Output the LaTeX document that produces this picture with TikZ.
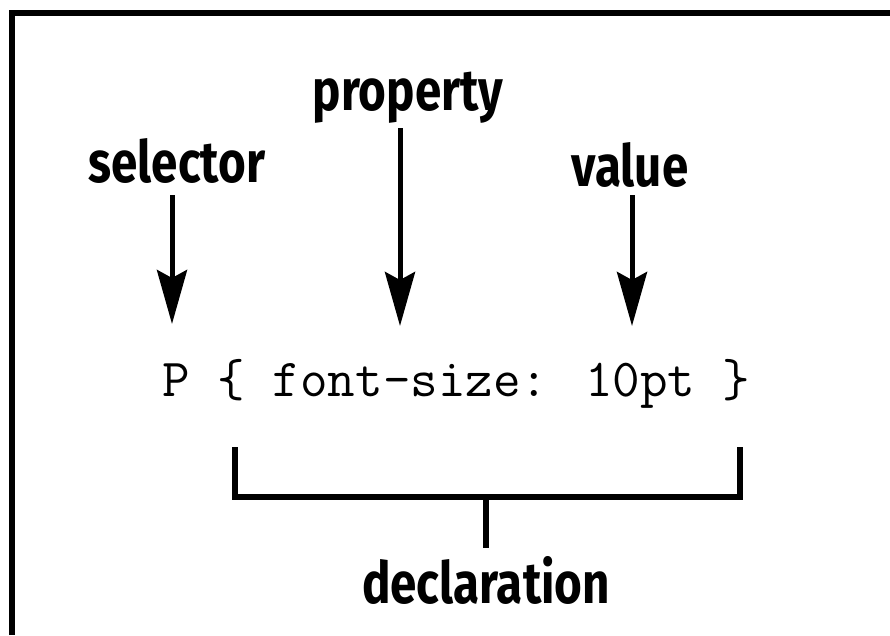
\documentclass[tikz,border=0pt]{standalone}
\usepackage{fontspec}
\newfontfamily\lblfont[FakeStretch=0.82]{Fira Sans}
\usetikzlibrary{arrows.meta}
\begin{document}
\begin{tikzpicture}[x=1pt,y=-1pt,
  lbl/.style={font=\lblfont\fontsize{58}{60}\selectfont\bfseries, inner sep=0pt, anchor=base},
  code/.style={font=\ttfamily\fontsize{53.5}{56}\selectfont, inner sep=0pt, anchor=base},
  arr/.style={line width=5pt, -{Stealth[length=54pt, width=30pt, inset=8pt]}},
  brk/.style={line width=5.5pt},
  frame/.style={line width=6pt}]
\useasboundingbox (0,0) rectangle (890,635);
\draw[frame] (11.5,635) -- (11.5,12.5) -- (890,12.5);
% labels
\node[lbl] (sel) at (177,182) {selector};
\node[lbl] (prop) at (408,110) {property};
\node[lbl] (val) at (630,186) {value};
% arrows
\coordinate (selS) at (172,195);
\coordinate (selT) at (172,324);
\coordinate (propS) at (400,128);
\coordinate (propT) at (400,326);
\coordinate (valS) at (632,195);
\coordinate (valT) at (632,326);
\draw[arr] (selS) -- (selT);
\draw[arr] (propS) -- (propT);
\draw[arr] (valS) -- (valT);
% code
\node[code] (cd) at (456.5,396) {P \{ font-size: 10pt \}};
% bracket
\coordinate (bL) at (235,447);
\coordinate (bR) at (740,447);
\coordinate (bM) at (486,497);
\coordinate (bS) at (486,548);
\draw[brk] (bL) -- (bL |- bM) -- (bR |- bM) -- (bR);
\draw[brk] (bM) -- (bS);
\node[lbl] (decl) at (486,603) {declaration};
\end{tikzpicture}
\end{document}
